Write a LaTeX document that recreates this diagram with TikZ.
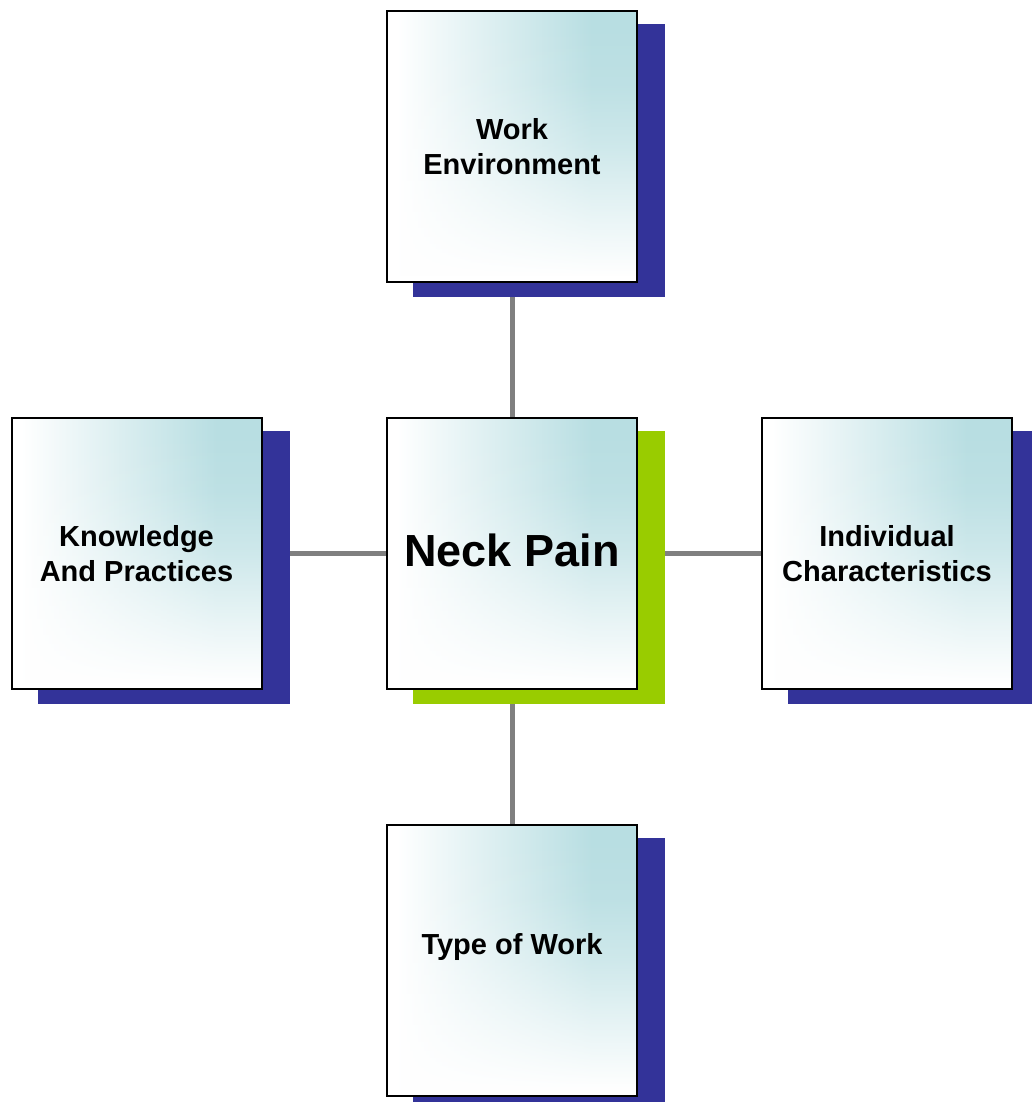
\documentclass[tikz,border=0pt]{standalone}
\usepackage{fontspec}
\setmainfont{Liberation Sans}
\usetikzlibrary{fadings,backgrounds}
\definecolor{boxteal}{RGB}{184,222,226}
\definecolor{shblue}{RGB}{51,51,153}
\definecolor{shgreen}{RGB}{153,204,0}
\definecolor{linkgray}{RGB}{128,128,128}
\pgfdeclarehorizontalshading{boxshade}{100bp}{color(0bp)=(white); color(27bp)=(white); color(66bp)=(boxteal); color(100bp)=(boxteal)}
\pgfdeclareverticalshading{fadeshade}{100bp}{color(0bp)=(white); color(29bp)=(white); color(40bp)=(black!35); color(50bp)=(black!68); color(60bp)=(black!92); color(70bp)=(black); color(100bp)=(black)}
\begin{tikzfadingfrompicture}[name=boxfade]
  \shade[shading=fadeshade] (0,0) rectangle (2,2);
\end{tikzfadingfrompicture}
\tikzset{
  box/.style={draw=black, line width=1.5pt, minimum width=187.5pt, minimum height=203.25pt,
    inner sep=2pt, align=center, font=\bfseries\fontsize{21.75pt}{26.25pt}\selectfont,
    shade, shading=boxshade,
    path picture={\fill[white, path fading=boxfade, fit fading=true] (path picture bounding box.south west) rectangle (path picture bounding box.north east);}},
  bigtext/.style={font=\bfseries\fontsize{33.75pt}{40pt}\selectfont},
  blueshadow/.style={fill=shblue},
  greenshadow/.style={fill=shgreen},
  link/.style={draw=linkgray, line width=3.75pt}
}
\begin{document}
\begin{tikzpicture}[x=0.75pt, y=-0.75pt]
\useasboundingbox (0,0) rectangle (1031,1102);
\node[box] (t) at (512,146.5) {Work\\Environment};
\node[box, bigtext, text depth=5pt] (c) at (512,553.5) {Neck Pain};
\node[box] (l) at (136.5,553.5) {Knowledge\\And Practices};
\node[box] (r) at (887,553.5) {Individual\\Characteristics};
\node[box, text depth=24pt] (b) at (512,960) {Type of Work};
\begin{pgfonlayer}{background}
  \draw[link] (t) -- (c);
  \draw[link] (l) -- (c);
  \draw[link] (c) -- (r);
  \draw[link] (c) -- (b);
  \fill[blueshadow] ([shift={(27,14)}]t.south west) rectangle ([shift={(27,14)}]t.north east);
  \fill[greenshadow] ([shift={(27,14)}]c.south west) rectangle ([shift={(27,14)}]c.north east);
  \fill[blueshadow] ([shift={(27,14)}]l.south west) rectangle ([shift={(27,14)}]l.north east);
  \fill[blueshadow] ([shift={(27,14)}]r.south west) rectangle ([shift={(27,14)}]r.north east);
  \fill[blueshadow] ([shift={(27,14)}]b.south west) rectangle ([shift={(27,14)}]b.north east);
\end{pgfonlayer}
\end{tikzpicture}
\end{document}
